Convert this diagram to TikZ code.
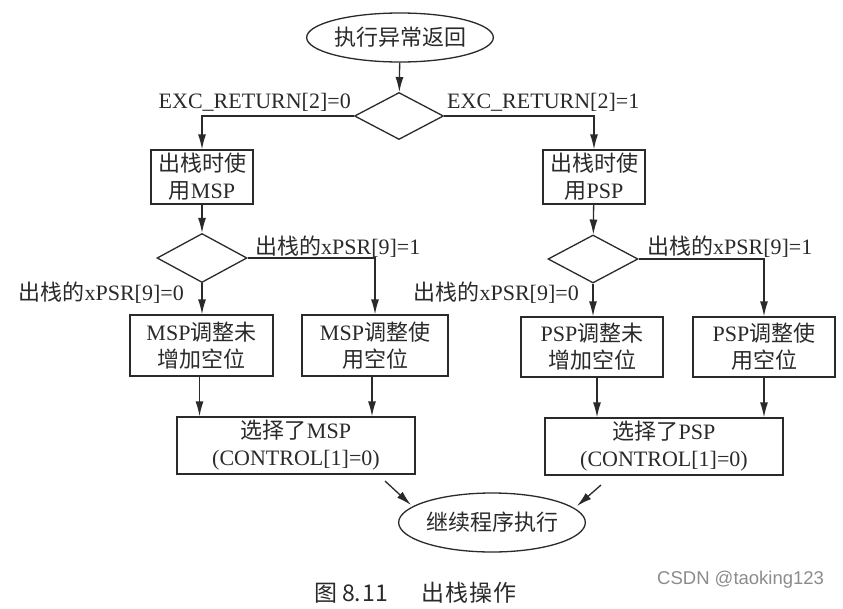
\documentclass[tikz,border=0pt]{standalone}
\usepackage{fontspec}
\setmainfont{Liberation Serif}
\newfontfamily\cjkfont{Noto Sans CJK SC}
\newfontfamily\wmfont{Liberation Sans}
\newcommand\zh[1]{{\cjkfont #1}}
\usetikzlibrary{shapes.geometric,arrows.meta}
\definecolor{ink}{HTML}{2A2A2A}
\begin{document}
\begin{tikzpicture}[x=1pt,y=-1pt,
  every node/.style={text=ink},
  txt/.style={font=\fontsize{22}{27}\selectfont, inner sep=0pt},
  box/.style={draw=ink, line width=1.3pt, txt, align=center},
  term/.style={draw=ink, line width=1.3pt, ellipse, txt},
  dec/.style={draw=ink, line width=1.3pt, diamond, inner sep=0pt},
  arr/.style={draw=ink, line width=1.3pt, -{Latex[length=15pt,width=8pt]}},
  lbl/.style={txt}
]
\useasboundingbox (0,0) rectangle (843,608);
\fill[white] (0,0) rectangle (843,608);

% top terminal
\node[term, minimum width=169pt, minimum height=49pt] (start) at (400,37.5) {\zh{执行异常返回}};
\node[dec, minimum width=89pt, minimum height=47pt] (d1) at (399,116) {};

% second level
\node[box, minimum width=102pt, minimum height=54pt] (msp) at (202,177) {\zh{出栈时使}\\\zh{用}MSP};
\node[box, minimum width=102pt, minimum height=54pt] (psp) at (594,177) {\zh{出栈时使}\\\zh{用}PSP};

\node[dec, minimum width=90pt, minimum height=49pt] (d2) at (202,258) {};
\node[dec, minimum width=90pt, minimum height=48pt] (d3) at (593,259) {};

% third level
\node[box, minimum width=143pt, minimum height=61pt] (a1) at (201.5,345.5) {MSP\zh{调整未}\\\zh{增加空位}};
\node[box, minimum width=146pt, minimum height=61pt] (a2) at (375,345.5) {MSP\zh{调整使}\\\zh{用空位}};
\node[box, minimum width=142pt, minimum height=60pt] (b1) at (592,347) {PSP\zh{调整未}\\\zh{增加空位}};
\node[box, minimum width=142pt, minimum height=60pt] (b2) at (764,347) {PSP\zh{调整使}\\\zh{用空位}};

% fourth level
\node[box, minimum width=238pt, minimum height=57pt] (m) at (296,445.5) {\zh{选择了}MSP\\(CONTROL[1]=0)};
\node[box, minimum width=238pt, minimum height=57pt] (p) at (664,446.5) {\zh{选择了}PSP\\(CONTROL[1]=0)};

% end terminal
\node[term, minimum width=172pt, minimum height=59pt] (end) at (492,522.5) {\zh{继续程序执行}};

% labels
\node[lbl, anchor=east] (le0) at (351,102) {EXC\_RETURN[2]=0};
\node[lbl, anchor=west] (le1) at (447,102) {EXC\_RETURN[2]=1};
\node[lbl, anchor=west] (lm1) at (255,247) {\zh{出栈的}xPSR[9]=1};
\node[lbl, anchor=east] (lm0) at (184,293) {\zh{出栈的}xPSR[9]=0};
\node[lbl, anchor=west] (lp1) at (647,247) {\zh{出栈的}xPSR[9]=1};
\node[lbl, anchor=east] (lp0) at (579,293) {\zh{出栈的}xPSR[9]=0};

% connectors
\draw[arr] (start) -- (d1);
\draw[arr] (d1.west) -| (msp.north);
\draw[arr] (d1.east) -| (psp.north);
\draw[arr] (msp) -- (d2);
\draw[arr] (psp) -- (d3);
\draw[arr] (d2.south) -- (d2.south |- a1.north);
\draw[arr] (d2.east) -| (a2.north);
\draw[arr] (d3.south) -- (d3.south |- b1.north);
\draw[arr] (d3.east) -| (b2.north);
\draw[arr] ([xshift=-2pt]a1.south) -- ([xshift=-2pt]a1.south |- m.north);
\draw[arr] ([xshift=-3pt]a2.south) -- ([xshift=-3pt]a2.south |- m.north);
\draw[arr] ([xshift=5pt]b1.south) -- ([xshift=5pt]b1.south |- p.north);
\draw[arr] (b2.south) -- (b2.south |- p.north);

\coordinate (sl) at (385,481);
\coordinate (el) at (411,505);
\coordinate (sr) at (601,485);
\coordinate (er) at (577,506);
\draw[arr] (sl) -- (el);
\draw[arr] (sr) -- (er);

% caption and watermark
\node[anchor=west, inner sep=0pt, font=\fontsize{23}{26}\selectfont] (cap) at (314,593) {\zh{图\hspace{5pt}8.\hspace{1pt}11\hspace{34pt}出\hspace{1pt}栈\hspace{1pt}操\hspace{1pt}作}};
\node[anchor=west, inner sep=0pt, text=black!45, font=\wmfont\fontsize{18.5}{22}\selectfont] (wm) at (657,580) {CSDN @taoking123};
\end{tikzpicture}
\end{document}
